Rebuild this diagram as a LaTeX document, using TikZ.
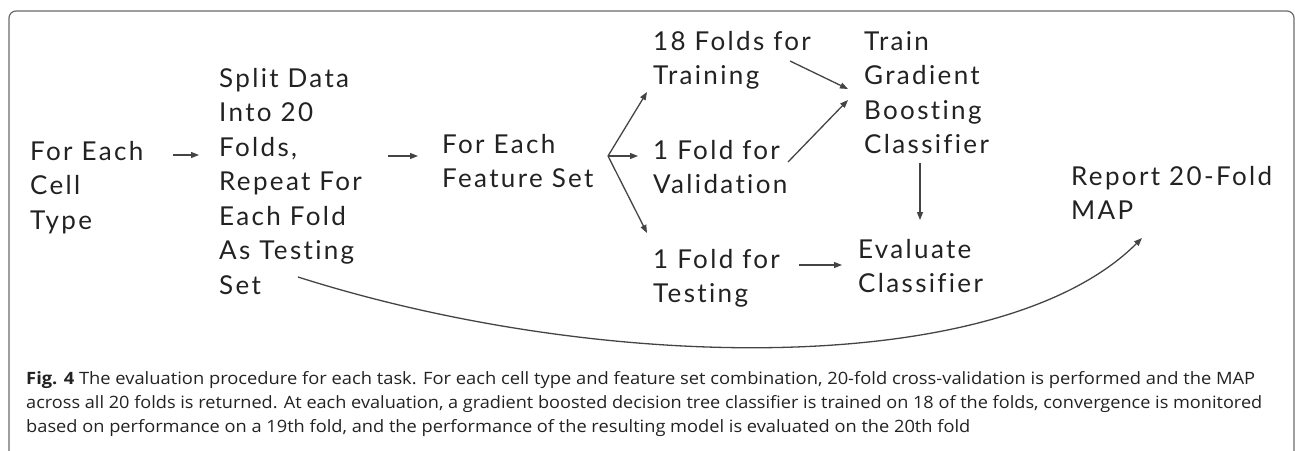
\documentclass[tikz,border=0pt]{standalone}
\usepackage{fontspec}
\usepackage{graphicx}
\usetikzlibrary{arrows.meta}
\newfontfamily\diagfont{Lato}[LetterSpace=9,Ligatures=NoCommon]
\newfontfamily\capfont{Open Sans}
\definecolor{txt}{HTML}{222222}
\definecolor{arrc}{HTML}{444444}
\definecolor{framec}{HTML}{6A6A6A}
\begin{document}
\begin{tikzpicture}[x=1pt,y=-1pt,
  lbl/.style={anchor=base west,inner sep=0pt,align=left,text=txt,
    font=\diagfont\fontsize{26}{34.5}\selectfont},
  capline/.style={anchor=base west,inner sep=0pt,text=txt,
    font=\capfont\fontsize{17}{24}\selectfont},
  arr/.style={draw=arrc,line width=1.3pt,-{Triangle[length=8pt,width=6pt]}}]
\useasboundingbox (0,0) rectangle (1295,450);
% frame
\draw[framec,line width=1.2pt,rounded corners=7pt] (9,452) -- (9,11) -- (1294,11) -- (1294,452);
% text nodes (anchored at the baseline of their last line)
\node[lbl] (cell) at (30,229) {For Each\\Cell\\Type};
\node[lbl] (split) at (219,294) {Split Data\\Into 20\\Folds,\\Repeat For\\Each Fold\\As Testing\\Set};
\node[lbl] (feat) at (442,187.5) {For Each\\Feature Set};
\node[lbl] (train) at (653,84.5) {18 Folds for\\Training};
\node[lbl] (valid) at (653,193.5) {1 Fold for\\Validation};
\node[lbl] (test) at (653,302.5) {1 Fold for\\Testing};
\node[lbl] (gbc) at (864,153.5) {Train\\Gradient\\Boosting\\Classifier};
\node[lbl] (eval) at (858,292.5) {Evaluate\\Classifier};
\node[lbl] (report) at (1071,219.5) {Report 20-Fold\\MAP};
% connector ends
\coordinate (cellout) at (173,155);
\coordinate (splitin) at (199,155);
\coordinate (splitout) at (388,156);
\coordinate (featin) at (418,156);
\coordinate (fork) at (608,156);
\coordinate (trainin) at (647,92);
\coordinate (validin) at (638,156);
\coordinate (testin) at (647,233);
\coordinate (trainout) at (790,61);
\coordinate (gbcin1) at (848,89);
\coordinate (validout) at (788,162);
\coordinate (gbcin2) at (848,100);
\coordinate (testout) at (799,265);
\coordinate (evalin) at (842,265);
\coordinate (gbcout) at (920,163);
\coordinate (evaltop) at (920,220);
\coordinate (loopstart) at (298,277);
\coordinate (reportin) at (1142,238);
% connectors
\draw[arr] (cellout) -- (splitin);
\draw[arr] (splitout) -- (featin);
\draw[arr] (fork) -- (trainin);
\draw[arr] (fork) -- (validin);
\draw[arr] (fork) -- (testin);
\draw[arr] (trainout) -- (gbcin1);
\draw[arr] (validout) -- (gbcin2);
\draw[arr] (testout) -- (evalin);
\draw[arr] (gbcout) -- (evaltop);
\draw[arr] (loopstart) .. controls (603,374) and (1001,379) .. (reportin);
% caption
\node[capline] (cap1) at (26,384) {\resizebox{1229pt}{\height}{\textbf{Fig. 4} The evaluation procedure for each task. For each cell type and feature set combination, 20-fold cross-validation is performed and the MAP}};
\node[capline] (cap2) at (26,408) {\resizebox{1236pt}{\height}{across all 20 folds is returned. At each evaluation, a gradient boosted decision tree classifier is trained on 18 of the folds, convergence is monitored}};
\node[capline] (cap3) at (26,432) {\resizebox{944pt}{\height}{based on performance on a 19th fold, and the performance of the resulting model is evaluated on the 20th fold}};
\end{tikzpicture}
\end{document}
